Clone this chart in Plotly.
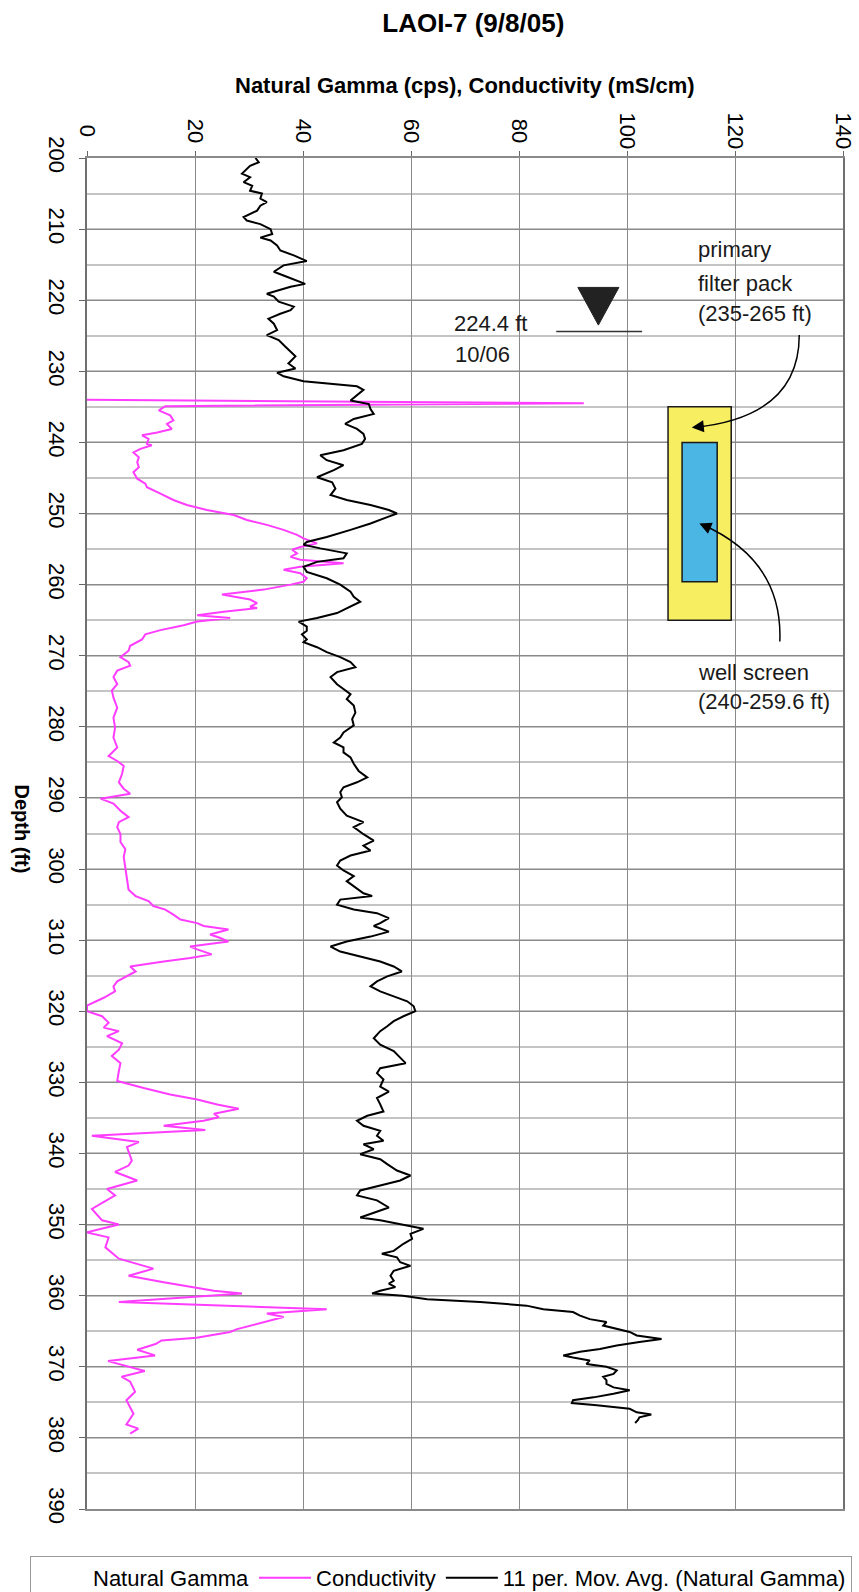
import plotly.graph_objects as go

# ---- Natural gamma, 11-point moving average (cps) vs depth (ft) ----
gamma_depth = [
    200.0, 200.6, 201.1, 201.5, 202.2, 202.7, 203.4, 203.9, 204.6, 205.0,
    205.7, 206.2, 206.7, 207.4, 207.9, 208.3, 208.8, 209.3, 210.0, 210.7,
    211.2, 211.6, 212.3, 213.0, 213.7, 214.5, 215.1, 216.0, 216.7, 217.7,
    218.1, 219.1, 219.5, 220.2, 220.9, 221.4, 221.9, 222.6, 223.3, 224.2,
    224.9, 225.6, 226.5, 227.2, 227.9, 228.9, 229.6, 230.2, 230.7, 231.4,
    231.9, 232.1, 232.6, 233.3,
    234.1, 234.6, 235.3, 236.0, 236.7, 237.4, 238.1, 238.8, 239.5, 240.2,
    241.1, 241.8, 242.5, 243.2, 243.9, 244.9, 245.6, 246.5, 247.4, 248.1,
    248.8, 249.5, 250.0, 250.5, 251.4, 252.3, 253.3, 254.0, 254.4, 254.9,
    255.6, 256.3, 256.8, 257.5, 258.2, 259.1, 260.0, 261.0, 261.7, 262.4,
    263.1, 264.0, 264.7, 265.2, 265.9,
    266.5, 267.0, 267.7, 268.1, 268.8, 269.5, 270.2, 270.9, 271.6, 272.3,
    273.0, 274.0, 274.7, 275.4, 276.1, 277.0, 278.0, 278.9, 279.8, 280.8,
    281.5, 282.2, 282.9, 283.6, 284.3, 285.2, 286.2, 287.1, 287.8, 288.5,
    289.2, 289.9, 290.6, 291.5, 292.5, 293.4, 294.1, 295.1, 296.0, 296.7,
    297.4, 298.1, 298.8, 299.5, 300.2,
    301.0, 301.7, 302.4, 303.4, 303.8, 304.3, 305.0, 305.7, 306.2, 306.9,
    307.6, 308.0, 308.8, 309.5, 310.2, 310.9, 311.6, 312.3, 313.0, 313.7,
    314.4, 315.1, 315.8, 316.5, 317.2, 317.9, 318.6, 319.3, 320.0, 320.7,
    321.4, 322.1, 322.8, 323.8, 324.7, 325.6, 326.6, 327.3, 328.0, 328.7,
    329.6, 330.6, 331.3, 332.2, 333.1, 334.1,
    334.7, 335.4, 336.1, 336.8, 337.5, 338.2, 338.7, 339.4, 340.1, 340.8,
    341.5, 342.4, 343.1, 343.8, 344.5, 345.2, 345.9, 346.6, 347.6, 348.3,
    349.0, 349.4, 350.1, 350.6, 351.3, 352.0, 352.7, 353.7, 354.1, 354.6,
    355.3, 355.8, 356.5, 357.2, 357.9, 358.3, 358.8, 359.3, 359.7,
    360.0, 360.5, 360.9, 361.4, 361.9, 362.3, 362.8, 363.3, 363.7, 364.2,
    364.7, 365.1, 365.6, 366.1, 366.5, 367.0, 367.5, 367.9, 368.4, 368.7,
    369.1, 369.6, 370.0, 370.5, 371.0, 371.4, 371.9, 372.4, 372.9, 373.3,
    373.8, 374.3, 374.7, 375.1, 375.4, 375.9, 376.4, 376.7, 377.1, 377.5,
    377.9,
]
gamma_avg = [
    31.2, 31.8, 30.2, 29.6, 28.7, 30.2, 29.0, 30.6, 30.2, 32.4,
    32.1, 33.3, 32.1, 31.5, 30.2, 29.0, 29.6, 32.1, 34.0, 34.3,
    32.1, 34.0, 35.2, 35.8, 38.3, 40.7, 36.4, 34.6, 37.0, 40.4,
    37.7, 33.3, 34.6, 35.5, 38.3, 37.7, 35.8, 33.6, 34.6, 35.2,
    33.3, 35.5, 36.7, 37.7, 38.6, 37.3, 38.6, 35.2, 36.4, 40.1,
    46.9, 50.0, 51.2, 50.0,
    48.8, 52.2, 52.5, 53.1, 49.4, 47.8, 50.0, 51.2, 51.5, 50.9,
    47.5, 43.2, 44.4, 47.5, 45.7, 42.6, 45.4, 46.0, 45.1, 48.1,
    52.5, 55.9, 57.4, 55.6, 52.5, 48.8, 44.4, 40.7, 40.1, 43.2,
    48.1, 47.5, 42.6, 40.1, 40.7, 44.4, 46.9, 48.8, 49.4, 50.6,
    48.8, 46.3, 42.6, 39.2, 40.7,
    40.7, 39.8, 40.7, 40.1, 42.6, 44.4, 46.9, 48.8, 49.7, 46.3,
    45.1, 46.3, 47.5, 48.8, 48.1, 49.4, 49.7, 49.1, 49.4, 47.5,
    46.9, 45.7, 47.5, 47.5, 48.8, 49.4, 50.3, 51.9, 50.0, 47.5,
    46.9, 47.2, 46.3, 46.9, 48.1, 51.2, 49.4, 51.2, 53.1, 51.2,
    52.5, 48.8, 46.9, 46.3, 47.5,
    49.4, 48.1, 49.4, 51.2, 52.8, 46.9, 46.3, 49.4, 53.7, 55.9,
    54.3, 53.1, 55.9, 52.5, 48.1, 45.1, 46.9, 50.6, 54.3, 56.8,
    58.3, 55.6, 53.7, 52.5, 54.3, 56.8, 59.3, 60.5, 60.8, 58.6,
    56.8, 55.6, 54.3, 53.1, 54.3, 56.8, 58.0, 59.0, 54.3, 53.7,
    54.9, 54.3, 55.9, 53.7, 54.3, 54.9,
    51.9, 50.0, 51.2, 54.3, 53.7, 54.9, 51.2, 53.1, 50.6, 54.3,
    55.6, 57.4, 59.9, 58.0, 54.3, 50.6, 50.0, 53.7, 55.9, 53.1,
    50.6, 54.3, 59.3, 62.3, 59.9, 60.2, 58.6, 56.8, 54.6, 57.4,
    58.0, 59.9, 56.8, 56.2, 56.8, 55.9, 57.1, 54.3, 52.8,
    58.5, 63.0, 72.8, 81.4, 84.5, 90.0, 91.3, 93.1, 96.2, 95.6,
    98.1, 100.5, 101.8, 106.4, 102.3, 98.1, 95.0, 91.3, 88.2, 90.0,
    93.1, 92.5, 96.2, 98.1, 97.5, 95.6, 96.2, 96.2, 97.5, 100.5,
    97.5, 93.8, 90.0, 89.8, 94.4, 100.5, 101.8, 104.5, 102.3, 102.0,
    101.5,
]

# ---- Fluid conductivity (mS/cm) vs depth (ft) ----
cond_depth = [
    234.0, 234.5, 234.9, 235.5, 236.2, 236.9, 237.4, 238.1, 238.6, 239.0,
    239.5, 240.2, 240.4, 240.9, 241.4, 242.1, 242.8, 243.5, 244.2, 245.1,
    245.8, 246.3, 247.2, 248.1, 248.8, 249.5, 250.2, 250.9, 251.6, 252.3,
    253.0, 253.5, 254.2, 254.7, 255.1, 255.6, 256.1, 256.5, 257.0, 257.5,
    257.9, 258.4, 259.1, 259.6, 260.0, 260.7, 261.4, 261.7, 262.1, 262.6,
    263.1, 263.3, 263.8, 264.3, 264.7, 265.2, 265.7, 266.4,
    267.0, 267.7, 268.6, 269.3, 270.2, 270.9, 271.4, 272.1, 273.0, 274.0,
    274.9, 275.9, 277.3, 278.7, 280.1, 281.5, 282.9, 284.1, 284.8, 285.5,
    286.6, 287.8, 288.7, 289.4, 290.1, 290.8, 291.8, 292.7, 293.4, 294.1,
    295.1, 296.2, 297.2, 298.3, 299.7,
    300.3, 301.7, 302.9, 303.8, 304.5, 305.2, 305.7, 306.4, 307.1, 307.6,
    308.0, 308.5, 309.2, 309.7, 310.2, 310.9, 311.3, 312.0, 312.5, 313.0,
    313.7, 314.4, 315.1, 315.8, 316.5, 317.2, 318.1, 318.8, 319.2, 320.0,
    320.7, 321.6, 322.3, 322.8, 323.5, 324.5, 325.4, 326.3, 327.3, 328.4,
    329.8, 330.8, 331.7, 332.4, 333.1, 333.7,
    334.4, 334.9, 335.4, 336.1, 336.7, 337.5, 338.4, 339.1, 341.0, 341.7,
    342.6, 343.8, 345.0, 345.9, 347.8, 349.4, 350.0, 351.1, 351.8, 353.2,
    354.8, 356.2, 357.2, 358.1, 359.3, 359.7, 360.9, 361.9, 362.5, 363.0,
    364.7, 365.1,
    365.9, 366.3, 366.8, 367.6, 368.4, 369.2, 370.6, 371.4, 372.1, 373.5,
    374.7, 376.6, 378.1, 378.7, 379.4,
]
conductivity = [
    0.0, 92.0, 14.5, 13.3, 15.4, 16.0, 14.8, 15.7, 13.0, 10.2,
    11.4, 11.1, 12.0, 9.9, 8.6, 9.6, 9.3, 9.6, 8.6, 9.3,
    10.8, 11.1, 13.6, 16.0, 18.5, 22.2, 27.2, 29.6, 33.3, 36.4,
    38.9, 40.1, 42.6, 39.5, 38.0, 38.9, 37.7, 39.5, 47.5, 39.5,
    36.4, 39.5, 40.7, 40.1, 37.7, 32.7, 25.0, 27.2, 30.2, 31.5,
    30.2, 31.5, 25.3, 20.4, 26.5, 20.4, 17.9, 13.6,
    10.8, 10.2, 8.0, 7.7, 6.2, 7.7, 8.0, 5.6, 4.9, 5.6,
    4.6, 4.9, 5.6, 4.9, 5.2, 4.9, 5.6, 4.0, 5.6, 6.8,
    6.5, 5.9, 6.8, 8.0, 2.5, 4.9, 6.2, 7.7, 5.9, 5.6,
    6.2, 6.2, 7.1, 6.8, 7.1,
    7.1, 7.4, 7.7, 9.0, 11.4, 12.3, 14.5, 16.0, 17.3, 20.4,
    21.6, 26.2, 22.8, 24.7, 26.2, 19.1, 20.4, 23.1, 19.1, 14.2,
    8.0, 9.0, 7.4, 5.6, 4.9, 5.2, 3.1, 1.2, 0.0, 0.0,
    2.8, 4.0, 3.1, 5.9, 3.7, 6.5, 5.9, 4.6, 6.2, 5.9,
    5.6, 10.5, 15.4, 20.4, 24.1, 28.1,
    23.5, 24.4, 21.6, 14.2, 21.9, 0.9, 9.6, 7.4, 8.3, 7.7,
    5.2, 9.3, 3.7, 5.2, 0.9, 2.8, 5.9, 0.0, 4.0, 3.4,
    5.9, 12.3, 7.7, 14.2, 23.5, 28.7, 5.9, 44.4, 33.3, 36.4,
    27.8, 26.5,
    20.3, 13.8, 12.7, 9.3, 12.6, 3.9, 10.7, 6.4, 8.0, 8.9,
    7.3, 8.6, 7.3, 9.5, 8.0,
]

# ---- Axis ticks ----
x_ticks = [0, 20, 40, 60, 80, 100, 120, 140]
depth_ticks = list(range(200, 391, 10))

# ---- Well construction / water level (ft) ----
water_level = 224.4
filter_pack = (235.0, 265.0)
well_screen = (240.0, 259.6)

FONT = "Liberation Sans, Arial, Helvetica, sans-serif"
MAGENTA = "#FF3DFF"


def centred_label(v):
    """Pad a tick label to three digit widths so rotated labels share a centre."""
    s = str(v)
    pad = {1: "\u2007", 2: "\u2008", 3: ""}[len(s)]
    return pad + s + pad


fig = go.Figure()

# raw gamma series is carried in the legend without a visible line
fig.add_trace(go.Scatter(
    x=gamma_avg, y=gamma_depth, mode="lines", name="Natural Gamma",
    line=dict(color="rgba(0,0,0,0)", width=0), hoverinfo="skip",
))
fig.add_trace(go.Scatter(
    x=conductivity, y=cond_depth, mode="lines", name="Conductivity",
    line=dict(color=MAGENTA, width=2),
))
fig.add_trace(go.Scatter(
    x=gamma_avg, y=gamma_depth, mode="lines",
    name="11 per. Mov. Avg. (Natural Gamma)",
    line=dict(color="black", width=2),
))

shapes = []
# filter pack and screen
shapes.append(dict(type="rect", xref="x", yref="y", x0=107.6, x1=119.3,
                   y0=filter_pack[0], y1=filter_pack[1],
                   fillcolor="#F8EE62", line=dict(color="#1a1a1a", width=1.5)))
shapes.append(dict(type="rect", xref="x", yref="y", x0=110.2, x1=116.7,
                   y0=well_screen[0], y1=well_screen[1],
                   fillcolor="#4BB5E4", line=dict(color="#1a1a1a", width=1.5)))
# water level line and marker
shapes.append(dict(type="line", xref="x", yref="y", x0=86.9, x1=102.8,
                   y0=water_level, y1=water_level,
                   line=dict(color="#333333", width=1.5)))
tri_top = water_level - 6.2
tri_tip = water_level - 0.9
shapes.append(dict(type="path", xref="x", yref="y",
                   path=f"M 90.9,{tri_top} L 98.5,{tri_top} L 94.7,{tri_tip} Z",
                   fillcolor="#222222", line=dict(color="#222222", width=1)))
# curved leader lines
shapes.append(dict(type="path", xref="x", yref="y",
                   path="M 131.9,224.9 Q 131.9,236.4 112.4,237.9",
                   line=dict(color="black", width=1.5)))
shapes.append(dict(type="path", xref="x", yref="y",
                   path="M 128.3,268.0 Q 128.9,256.5 113.8,251.5",
                   line=dict(color="black", width=1.5)))

annotations = []
# arrowheads at the ends of the leader lines
annotations.append(dict(x=112.0, y=237.9, xref="x", yref="y", text="",
                        showarrow=True, arrowhead=2, arrowsize=1.6,
                        arrowwidth=1.5, arrowcolor="black", ax=14, ay=-1.4))
annotations.append(dict(x=113.4, y=251.4, xref="x", yref="y", text="",
                        showarrow=True, arrowhead=2, arrowsize=1.6,
                        arrowwidth=1.5, arrowcolor="black", ax=13, ay=5.6))

note_font = dict(family=FONT, size=22, color="#1a1a1a")
for txt, yy in [("primary", 212.9), ("filter pack", 217.6), ("(235-265 ft)", 221.8),
                ("well screen", 272.3), ("(240-259.6 ft)", 276.5)]:
    annotations.append(dict(x=112.8, y=yy, xref="x", yref="y", text=txt,
                            showarrow=False, xanchor="left", yanchor="middle",
                            font=note_font))
annotations.append(dict(x=67.6, y=water_level - 1.1, xref="x", yref="y",
                        text=f"{water_level} ft", showarrow=False,
                        xanchor="left", yanchor="middle", font=note_font))
annotations.append(dict(x=67.8, y=227.7, xref="x", yref="y", text="10/06",
                        showarrow=False, xanchor="left", yanchor="middle",
                        font=note_font))

# axis titles
annotations.append(dict(x=0.5, y=1.054, xref="paper", yref="paper",
                        text="<b>Natural Gamma (cps), Conductivity (mS/cm)</b>",
                        showarrow=False, xanchor="center", yanchor="middle",
                        font=dict(family=FONT, size=22, color="black")))
annotations.append(dict(x=-0.086, y=0.503, xref="paper", yref="paper",
                        text="<b>Depth (ft)</b>", textangle=90,
                        showarrow=False, xanchor="center", yanchor="middle",
                        font=dict(family=FONT, size=20, color="black")))

fig.update_layout(
    width=859, height=1592,
    margin=dict(l=87, r=16, t=158, b=83, autoexpand=False),
    paper_bgcolor="white", plot_bgcolor="white",
    font=dict(family=FONT, size=21, color="black"),
    title=dict(text="<b>LAOI-7 (9/8/05)</b>", x=0.551, xanchor="center",
               y=1 - 23 / 1592, yanchor="middle",
               font=dict(family=FONT, size=26, color="black")),
    xaxis=dict(side="top", range=[0, 140], tickvals=x_ticks,
               ticktext=[centred_label(v) for v in x_ticks], tickangle=90,
               showgrid=True, gridcolor="#8a8a8a", gridwidth=1,
               showline=True, linecolor="#8a8a8a", linewidth=2, mirror=True,
               ticks="outside", ticklen=5, tickcolor="#666666",
               ticklabelstandoff=-6,
               zeroline=False, tickfont=dict(size=22)),
    yaxis=dict(range=[390, 200], tickvals=depth_ticks,
               ticktext=[str(v) for v in depth_ticks], tickangle=90,
               showgrid=True, gridcolor="#8a8a8a", gridwidth=1,
               minor=dict(dtick=5, showgrid=True, gridcolor="#c4c4c4", gridwidth=2),
               showline=True, linecolor="#707070", linewidth=2, mirror=True,
               ticks="outside", ticklen=6, tickcolor="#666666",
               ticklabelstandoff=4,
               zeroline=False, tickfont=dict(size=22)),
    legend=dict(orientation="h", x=-0.0754, xanchor="left", y=-0.0348,
                yanchor="top", bordercolor="#9a9a9a", borderwidth=1,
                bgcolor="white", font=dict(family=FONT, size=22),
                itemwidth=52, traceorder="normal"),
    shapes=shapes,
    annotations=annotations,
    showlegend=True,
)

fig.write_html("out.html")
